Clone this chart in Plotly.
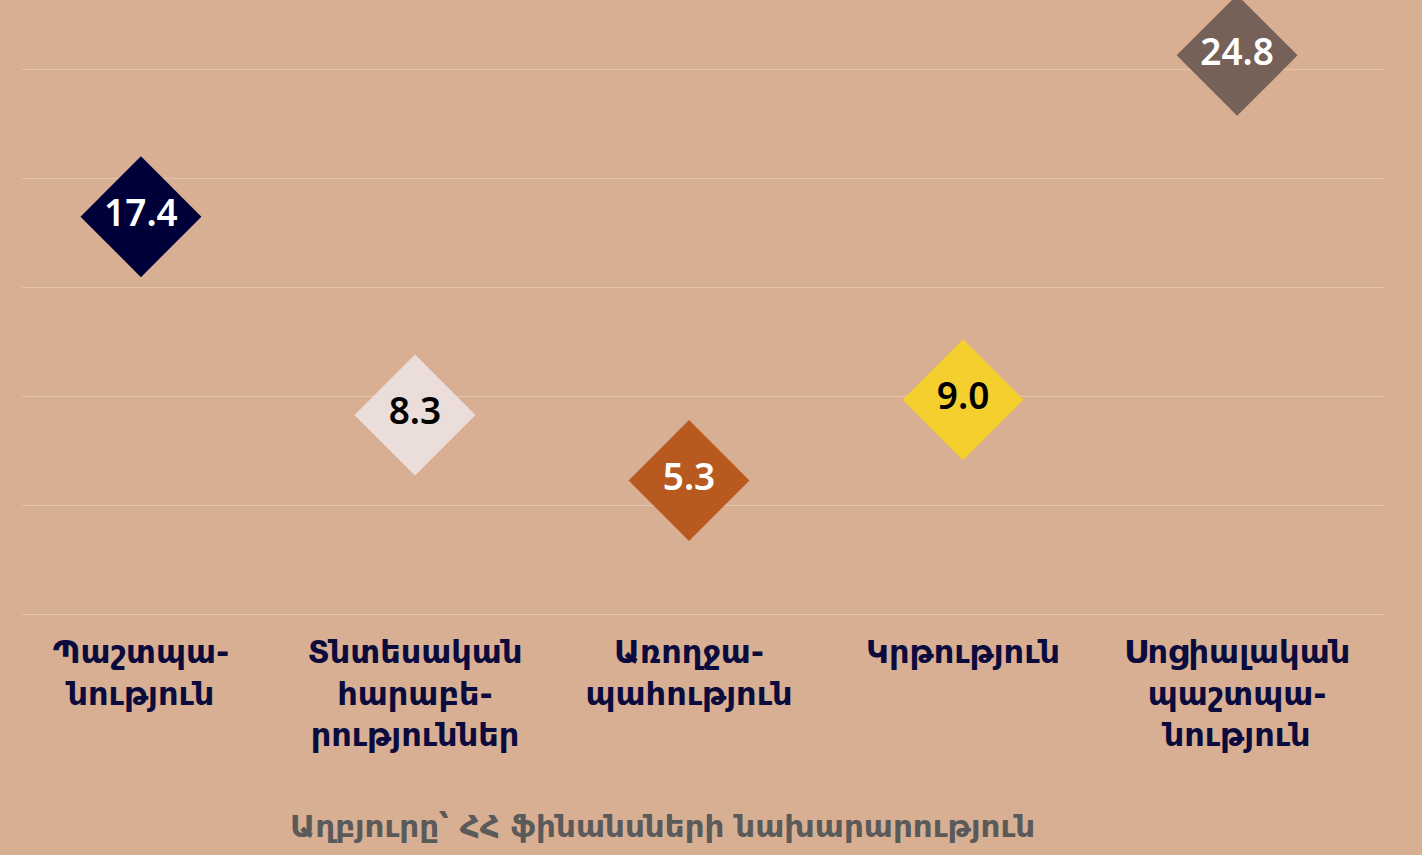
import plotly.graph_objects as go

categories = [
    "Պաշտպա-<br>նություն",
    "Տնտեսական<br>հարաբե-<br>րություններ",
    "Առողջա-<br>պահություն",
    "Կրթություն",
    "Սոցիալական<br>պաշտպա-<br>նություն",
]
values = [17.4, 8.3, 5.3, 9.0, 24.8]
labels = ["17.4", "8.3", "5.3", "9.0", "24.8"]
grid_vals = [0, 5, 10, 15, 20, 25]

BG = "#D8AF93"
marker_colors = ["#000038", "#EBDDDA", "#B85A1F", "#F4CF2E", "#756157"]
text_colors = ["white", "black", "white", "black", "white"]
NAVY = "#0B0B3E"

fig = go.Figure()

fig.add_trace(go.Scatter(
    x=list(range(len(categories))),
    y=values,
    mode="markers+text",
    marker=dict(symbol="diamond", size=93, color=marker_colors, line=dict(width=0)),
    text=labels,
    textposition="middle center",
    textfont=dict(family="Noto Sans", size=37, color=text_colors, weight=600),
    cliponaxis=False,
    hoverinfo="skip",
    showlegend=False,
))

# invisible trace to activate the grid axis
fig.add_trace(go.Scatter(x=[0], y=[0], yaxis="y2", mode="markers",
                         marker=dict(opacity=0), hoverinfo="skip", showlegend=False))

px_per_unit = 21.8
zero_px = 614      # baseline gridline, from top
plot_h = 620       # plot area bottom, from top
fig.update_layout(
    width=1422,
    height=855,
    paper_bgcolor=BG,
    plot_bgcolor=BG,
    margin=dict(l=22, r=38, t=0, b=855 - plot_h),
    xaxis=dict(
        range=[-0.434, 4.536],
        tickvals=list(range(len(categories))),
        ticktext=categories,
        showgrid=False,
        zeroline=False,
        showline=False,
        ticks="",
        ticklabelstandoff=10,
        tickfont=dict(family="DejaVu Sans", size=32, color=NAVY, weight="bold"),
    ),
    yaxis=dict(
        range=[-(plot_h - zero_px + 18) / px_per_unit, (zero_px - 18) / px_per_unit],
        showgrid=False,
        zeroline=False,
        showticklabels=False,
    ),
    yaxis2=dict(
        range=[-(plot_h - zero_px) / px_per_unit, zero_px / px_per_unit],
        overlaying="y",
        tickvals=grid_vals,
        showticklabels=False,
        showgrid=True,
        gridcolor="#E3C4AD",
        gridwidth=1,
        zeroline=False,
    ),
    annotations=[dict(
        text="Աղբյուրը՝ ՀՀ ֆինանսների նախարարություն",
        xref="paper", yref="paper",
        x=0.47, y=-(826 - plot_h) / plot_h,
        xanchor="center", yanchor="middle",
        showarrow=False,
        font=dict(family="DejaVu Sans", size=31, color="#5A5A5A", weight="bold"),
    )],
)

fig.write_html("out.html", config={"displayModeBar": False},
               post_script="document.body.style.margin='0';")
